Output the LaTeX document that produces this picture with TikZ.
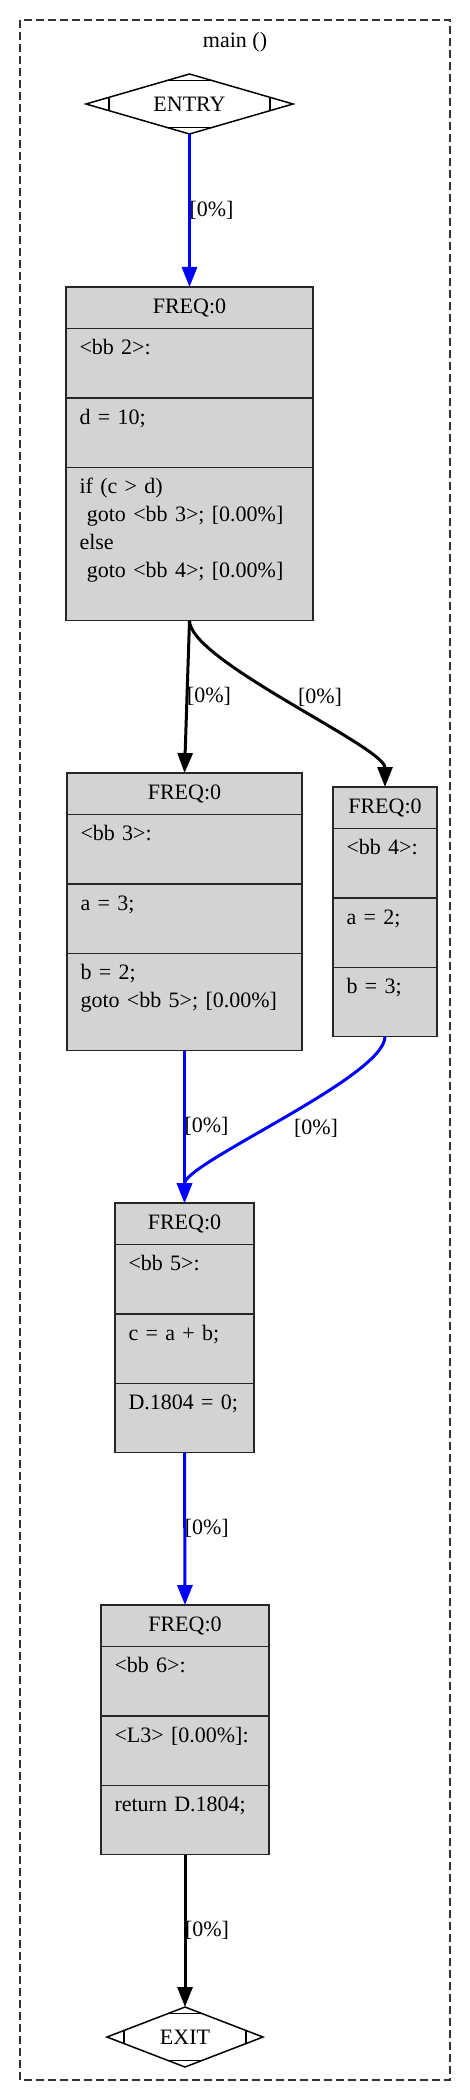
\documentclass[tikz,border=0pt]{standalone}
\usepackage{fontspec}
\setmainfont{Liberation Serif}
\usetikzlibrary{positioning, calc, arrows.meta, shapes.geometric, shapes.multipart}
\definecolor{bbfill}{HTML}{D3D3D3}
\definecolor{framegray}{HTML}{333333}
\tikzset{
    bb/.style={rectangle split, rectangle split parts=4, draw=black!85, fill=bbfill, line width=1.4pt,
        inner xsep=13.5pt, inner ysep=6pt, outer sep=0pt, align=left, anchor=north},
    term/.style={diamond, draw, line width=1.5pt, aspect=3, inner sep=0pt, outer sep=0pt, minimum height=60pt},
    flow/.style={-{Triangle[length=20pt,width=15pt]}, line width=3pt},
    lbl/.style={inner sep=0pt, outer sep=0pt, text=black}
}
\newcommand{\freq}{\makebox[\linewidth]{\strut FREQ:0}}

\begin{document}
\begin{tikzpicture}[x=1pt, y=-1pt, font=\fontsize{22}{28}\selectfont]
    \useasboundingbox (0,0) rectangle (470,2100);
    \draw[framegray, line width=1.3pt, dash pattern=on 8pt off 4pt] (20,20) rectangle (450,2080);
    \node (title) at (235,42) {main ()};

    % entry and exit
    \node[term, minimum width=207pt] (entry) at (189.5,104) {ENTRY};
    \node[term, minimum width=156pt] (exit) at (185,2037) {EXIT};
    \foreach \t in {entry,exit}{
        \draw[line width=1.5pt] ($(\t.north)!.22!(\t.west)$)--($(\t.north)!.22!(\t.east)$)
            ($(\t.south)!.22!(\t.west)$)--($(\t.south)!.22!(\t.east)$)
            ($(\t.west)!.22!(\t.north)$)--($(\t.west)!.22!(\t.south)$)
            ($(\t.east)!.22!(\t.north)$)--($(\t.east)!.22!(\t.south)$);
    }

    % basic blocks
    \node[bb, text width=220pt] (bb2) at (189.5,287) {\freq
        \nodepart{two}\strut<bb 2>:\\\strut
        \nodepart{three}\strut d = 10;\\\strut
        \nodepart{four}\strut if (c > d)\\\strut\ goto <bb 3>; [0.00\%]\\\strut else\\\strut\ goto <bb 4>; [0.00\%]\\\strut};
    \node[bb, text width=208pt] (bb3) at (184.5,773) {\freq
        \nodepart{two}\strut<bb 3>:\\\strut
        \nodepart{three}\strut a = 3;\\\strut
        \nodepart{four}\strut b = 2;\\\strut goto <bb 5>; [0.00\%]\\\strut};
    \node[bb, text width=77pt] (bb4) at (385,787) {\freq
        \nodepart{two}\strut<bb 4>:\\\strut
        \nodepart{three}\strut a = 2;\\\strut
        \nodepart{four}\strut b = 3;\\\strut};
    \node[bb, text width=112pt] (bb5) at (184.5,1203) {\freq
        \nodepart{two}\strut<bb 5>:\\\strut
        \nodepart{three}\strut c = a + b;\\\strut
        \nodepart{four}\strut D.1804 = 0;\\\strut};
    \node[bb, text width=141pt] (bb6) at (185,1605) {\freq
        \nodepart{two}\strut<bb 6>:\\\strut
        \nodepart{three}\strut<L3> [0.00\%]:\\\strut
        \nodepart{four}\strut return D.1804;\\\strut};

    % edges
    \draw[flow, blue] (entry.south) -- node[lbl, right] (p1) {[0\%]} (bb2.north);
    \draw[flow] (bb2.south) -- node[lbl, right] (p2) {[0\%]} (bb3.north);
    \draw[flow] (bb2.south) .. controls +(0,40) and +(0,-40) .. (bb4.north);
    \node[lbl] (p3) at (320,697) {[0\%]};
    \draw[flow, blue] (bb3.south) -- node[lbl, right] (p4) {[0\%]} (bb5.north);
    \draw[flow, blue] (bb4.south) .. controls +(0,40) and +(0,-40) .. (bb5.north);
    \node[lbl] (p5) at (316,1128) {[0\%]};
    \draw[flow, blue] (bb5.south) -- node[lbl, right] (p6) {[0\%]} (bb6.north);
    \draw[flow] (bb6.south) -- node[lbl, right] (p7) {[0\%]} (exit.north);
\end{tikzpicture}
\end{document}
